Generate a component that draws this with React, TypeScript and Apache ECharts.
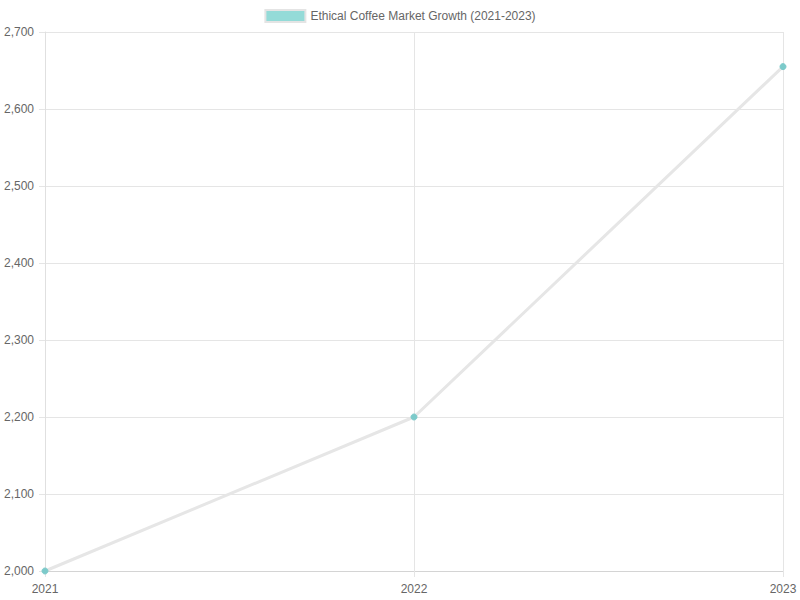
import { useEffect, useRef } from "react";
import * as echarts from "echarts";

const years = ["2021", "2022", "2023"];
const marketValues = [2000, 2200, 2655];
const seriesName = "Ethical Coffee Market Growth (2021-2023)";

const yMin = 2000;
const yMax = 2700;
const yStep = 100;

export default function App() {
  const chartRef = useRef<HTMLDivElement>(null);

  useEffect(() => {
    if (!chartRef.current) return;
    const chart = echarts.init(chartRef.current, undefined, { renderer: "svg" });

    const font = "'Liberation Sans', Arial, Helvetica, sans-serif";

    chart.setOption({
      animation: false,
      textStyle: { fontFamily: font },
      legend: {
        top: 4,
        left: "center",
        icon: "rect",
        itemWidth: 40,
        itemHeight: 12,
        itemGap: 10,
        textStyle: { color: "#666", fontSize: 12, fontFamily: font },
        itemStyle: { color: "#94dbd8", borderColor: "#e4e4e4", borderWidth: 2 },
        data: [seriesName],
      },
      grid: { left: 45, right: 17, top: 32, bottom: 29 },
      xAxis: {
        type: "category",
        data: years,
        boundaryGap: false,
        axisLine: { show: true, lineStyle: { color: "#d4d4d4", width: 1 } },
        axisTick: { show: true, length: 6, lineStyle: { color: "#e5e5e5" } },
        axisLabel: { color: "#666", fontSize: 12, margin: 12, fontFamily: font },
        splitLine: { show: true, lineStyle: { color: "#e5e5e5", width: 1 } },
      },
      yAxis: {
        type: "value",
        min: yMin,
        max: yMax,
        interval: yStep,
        axisLine: { show: true, lineStyle: { color: "#e0e0e0", width: 1 } },
        axisTick: { show: true, length: 6, lineStyle: { color: "#e5e5e5" } },
        axisLabel: {
          color: "#666",
          fontSize: 12,
          margin: 11,
          fontFamily: font,
          formatter: (v: number) => v.toLocaleString("en-US"),
        },
        splitLine: { show: true, lineStyle: { color: "#e5e5e5", width: 1 } },
      },
      series: [
        {
          name: seriesName,
          type: "line",
          data: marketValues,
          symbol: "circle",
          symbolSize: 6,
          showSymbol: true,
          itemStyle: { color: "#7ccaca", borderColor: "#7ccaca" },
          lineStyle: { color: "#e6e6e6", width: 3 },
        },
      ],
    });

    return () => {
      chart.dispose();
    };
  }, []);

  return (
    <div
      ref={chartRef}
      style={{ position: "absolute", left: 0, top: 0, width: 800, height: 600 }}
    />
  );
}
